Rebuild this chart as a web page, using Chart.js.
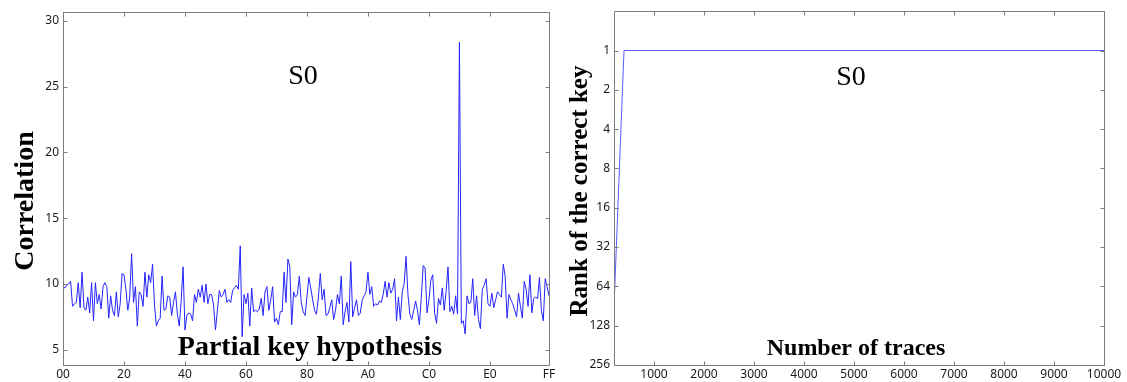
<!DOCTYPE html>
<html>
<head>
<meta charset="utf-8">
<script src="https://cdn.jsdelivr.net/npm/chart.js@4.4.1/dist/chart.umd.min.js"></script>
<style>
  body { margin: 0; background: #fff; }
  #wrap { position: relative; width: 1127px; height: 382px; }
  .box { position: absolute; top: 0; height: 382px; }
</style>
</head>
<body>
<div id="wrap">
  <div class="box" style="left:0;width:560px"><canvas id="corr"></canvas></div>
  <div class="box" style="left:560px;width:567px"><canvas id="rank"></canvas></div>
</div>
<script>
// left panel: correlation for every partial key guess 00..FF
const correlation = [
  9.8, 9.7, 9.9, 10.0, 10.2, 8.3, 8.5, 8.6, 10.1, 8.2, 10.9, 8.2, 8.0, 9.0, 7.8, 10.1,
  7.2, 10.1, 8.5, 9.2, 8.1, 9.8, 10.1, 9.8, 7.4, 9.1, 8.0, 7.6, 9.4, 7.5, 8.5, 10.8,
  10.7, 9.6, 8.0, 9.0, 12.3, 8.6, 9.8, 6.8, 9.4, 9.2, 8.3, 10.9, 9.0, 10.7, 10.1, 11.5,
  8.4, 6.8, 7.2, 7.4, 10.6, 8.0, 8.1, 9.1, 9.0, 7.6, 8.6, 9.4, 7.7, 6.8, 8.7, 11.3,
  6.5, 7.6, 7.8, 7.7, 7.2, 9.2, 8.6, 9.6, 9.0, 9.9, 8.6, 10.0, 8.5, 9.2, 9.2, 8.4,
  6.5, 8.0, 9.5, 9.0, 9.2, 9.6, 8.6, 8.8, 8.6, 9.5, 9.7, 9.9, 9.6, 12.9, 6.0, 9.2,
  8.5, 9.3, 6.8, 9.7, 7.9, 8.0, 7.9, 8.1, 8.9, 7.6, 9.4, 9.8, 8.0, 8.8, 9.8, 7.1,
  7.4, 6.9, 7.9, 7.9, 10.9, 8.6, 11.9, 11.3, 6.9, 9.4, 9.0, 9.2, 10.6, 8.6, 7.9, 7.6,
  9.0, 10.5, 9.7, 8.8, 8.0, 7.7, 9.0, 10.8, 8.8, 9.6, 7.6, 7.7, 8.2, 8.8, 7.3, 8.0,
  9.2, 8.5, 10.6, 6.9, 7.9, 8.6, 7.1, 11.7, 7.5, 8.2, 8.8, 7.6, 7.8, 8.8, 9.1, 9.4,
  10.9, 9.2, 9.8, 8.3, 8.5, 8.4, 8.7, 8.6, 9.2, 10.2, 9.0, 10.1, 9.3, 9.6, 10.4, 7.2,
  9.0, 7.3, 9.4, 10.0, 12.1, 9.2, 7.7, 7.3, 8.0, 8.7, 8.0, 6.9, 9.0, 11.4, 11.2, 7.8,
  8.8, 10.3, 10.7, 7.8, 7.0, 8.9, 8.4, 9.7, 8.0, 9.4, 11.3, 7.9, 8.3, 7.7, 9.1, 7.7,
  28.4, 7.0, 7.2, 6.2, 9.1, 8.5, 8.6, 10.4, 7.6, 9.1, 7.3, 6.6, 9.6, 9.9, 10.4, 8.5,
  8.3, 9.3, 8.2, 8.8, 9.4, 9.2, 9.0, 11.5, 10.6, 7.4, 9.2, 8.8, 8.5, 8.0, 7.5, 9.3,
  8.3, 7.4, 10.2, 9.6, 8.3, 10.7, 7.8, 8.9, 9.0, 8.9, 10.5, 8.0, 7.2, 10.4, 9.8, 9.1
]
const keyTicks = [0x00, 0x20, 0x40, 0x60, 0x80, 0xA0, 0xC0, 0xE0, 0xFF]
const corrTicks = [5, 10, 15, 20, 25, 30]

// right panel: rank of the correct key vs number of traces
const traces = [200, 400, 1000, 2000, 3000, 4000, 5000, 6000, 7000, 8000, 9000, 10000]
const rank = [92, 1, 1, 1, 1, 1, 1, 1, 1, 1, 1, 1]
const traceTicks = [1000, 2000, 3000, 4000, 5000, 6000, 7000, 8000, 9000, 10000]
const rankTicks = [1, 2, 4, 8, 16, 32, 64, 128, 256]

const tickFont = { family: "'Noto Sans', 'DejaVu Sans', sans-serif", size: 12 }
const tickColor = "#1a1a1a"
const noGrid = { display: false, drawTicks: false }

// matlab style box: grey frame, inward ticks on all four sides, free text
const matlabBox = {
  id: "matlabBox",
  afterDatasetsDraw(chart, args, opts) {
    const { ctx, chartArea: a, scales: { x, y } } = chart
    const L = Math.round(a.left) + 0.5, R = Math.round(a.right) + 0.5
    const T = Math.round(a.top) + 0.5, B = Math.round(a.bottom) + 0.5
    ctx.save()
    ctx.strokeStyle = "#7d7d7d"
    ctx.lineWidth = 1
    ctx.beginPath()
    ctx.rect(L, T, R - L, B - T)
    x.ticks.forEach(t => {
      const px = Math.round(x.getPixelForValue(t.value)) + 0.5
      ctx.moveTo(px, B); ctx.lineTo(px, B - 4)
      ctx.moveTo(px, T); ctx.lineTo(px, T + 4)
    })
    y.ticks.forEach(t => {
      const py = Math.round(y.getPixelForValue(t.value)) + 0.5
      ctx.moveTo(L, py); ctx.lineTo(L + 4, py)
      ctx.moveTo(R, py); ctx.lineTo(R - 4, py)
    })
    ctx.stroke()

    ctx.fillStyle = "#000"
    ctx.textAlign = "center"
    ctx.textBaseline = "middle"
    opts.labels.forEach(l => {
      ctx.save()
      ctx.font = l.font
      ctx.translate(l.x, l.y)
      if (l.rotate) ctx.rotate(l.rotate)
      ctx.fillText(l.text, 0, 0)
      ctx.restore()
    })
    ctx.restore()
  }
}

new Chart(document.getElementById("corr"), {
  type: "line",
  data: {
    datasets: [{
      data: correlation.map((v, i) => ({ x: i, y: v })),
      borderColor: "#2424ff",
      borderWidth: 1,
      pointRadius: 0,
      tension: 0
    }]
  },
  options: {
    responsive: true,
    maintainAspectRatio: false,
    animation: false,
    layout: { padding: { top: 12, right: 11, left: 0, bottom: 0 } },
    plugins: {
      legend: { display: false },
      tooltip: { enabled: false },
      matlabBox: {
        labels: [
          { text: "S0", x: 303, y: 77, font: "28px 'Liberation Serif', serif" },
          { text: "Partial key hypothesis", x: 310, y: 348, font: "bold 28px 'Liberation Serif', serif" },
          { text: "Correlation", x: 26, y: 201, rotate: -Math.PI / 2, font: "bold 28px 'Liberation Serif', serif" }
        ]
      }
    },
    scales: {
      x: {
        type: "linear",
        min: 0,
        max: 255,
        afterBuildTicks: s => { s.ticks = keyTicks.map(v => ({ value: v })) },
        afterFit: s => { s.height = 17 },
        grid: noGrid,
        border: { display: false },
        ticks: {
          autoSkip: false,
          maxRotation: 0,
          padding: 2,
          color: tickColor,
          font: tickFont,
          callback: v => v.toString(16).toUpperCase().padStart(2, "0")
        }
      },
      y: {
        min: 3.84,
        max: 30.68,
        afterBuildTicks: s => { s.ticks = corrTicks.map(v => ({ value: v })) },
        afterFit: s => { s.width = 63 },
        grid: noGrid,
        border: { display: false },
        ticks: { padding: 4, color: tickColor, font: tickFont }
      }
    }
  },
  plugins: [matlabBox]
})

new Chart(document.getElementById("rank"), {
  type: "line",
  data: {
    datasets: [{
      data: traces.map((t, i) => ({ x: t, y: rank[i] })),
      borderColor: "#5a5aff",
      borderWidth: 1,
      pointRadius: 0,
      tension: 0
    }]
  },
  options: {
    responsive: true,
    maintainAspectRatio: false,
    animation: false,
    layout: { padding: { top: 9, right: 23, left: 0, bottom: 0 } },
    plugins: {
      legend: { display: false },
      tooltip: { enabled: false },
      matlabBox: {
        labels: [
          { text: "S0", x: 291, y: 78, font: "28px 'Liberation Serif', serif" },
          { text: "Number of traces", x: 296, y: 349, font: "bold 24px 'Liberation Serif', serif" },
          { text: "Rank of the correct key", x: 21, y: 191, rotate: -Math.PI / 2, font: "bold 25px 'Liberation Serif', serif" }
        ]
      }
    },
    scales: {
      x: {
        type: "linear",
        min: 200,
        max: 10000,
        afterBuildTicks: s => { s.ticks = traceTicks.map(v => ({ value: v })) },
        afterFit: s => { s.height = 17 },
        grid: noGrid,
        border: { display: false },
        ticks: { autoSkip: false, maxRotation: 0, padding: 2, color: tickColor, font: tickFont, callback: v => String(v) }
      },
      y: {
        type: "logarithmic",
        reverse: true,
        min: 0.5,
        max: 256,
        afterBuildTicks: s => { s.ticks = rankTicks.map(v => ({ value: v })) },
        afterFit: s => { s.width = 54 },
        grid: noGrid,
        border: { display: false },
        ticks: { padding: 4, color: tickColor, font: tickFont, callback: v => String(v) }
      }
    }
  },
  plugins: [matlabBox]
})
</script>
</body>
</html>
